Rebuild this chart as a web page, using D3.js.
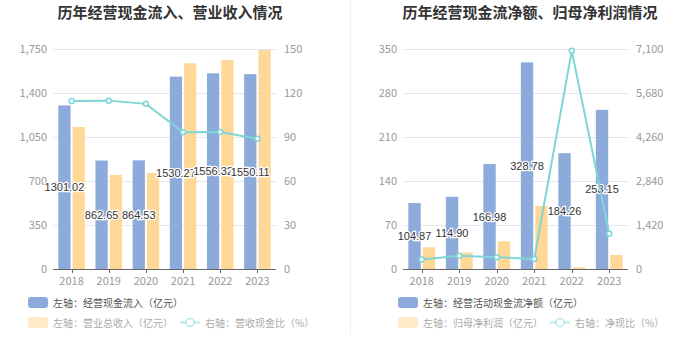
<!DOCTYPE html>
<html><head><meta charset="utf-8">
<script src="https://cdn.jsdelivr.net/npm/d3@7/dist/d3.min.js"></script>
<style>body{margin:0;background:#fff;}svg{display:block;font-family:"Noto Sans CJK SC","Noto Sans",sans-serif;}</style>
</head><body>
<svg id="c" width="700" height="360"></svg>
<script>
const years = ["2018","2019","2020","2021","2022","2023"];
// Left chart
const cashInflow = [1301.02, 862.65, 864.53, 1530.27, 1556.32, 1550.11];
const revenue = [1130, 748, 764, 1636, 1662, 1742];
const cashRevenueRatio = [114.6, 114.8, 112.6, 93.3, 93.4, 88.8];
const leftTicksL = [0, 350, 700, 1050, 1400, 1750];
const leftTicksR = [0, 30, 60, 90, 120, 150];
// Right chart
const netCashFlow = [104.87, 114.90, 166.98, 328.78, 184.26, 253.15];
const netProfit = [34.5, 26.0, 44.0, 100.2, 2.6, 22.3];
const netCashRatio = [310, 430, 378, 325, 7040, 1140];
const rightTicksL = [0, 70, 140, 210, 280, 350];
const rightTicksR = [0, 1420, 2840, 4260, 5680, 7100];

const BLUE = "#8CABDA", YELLOW = "#FFD797", LINE = "#7FD6D6";
const svg = d3.select("#c");

svg.append("line").attr("x1",350.5).attr("x2",350.5).attr("y1",0).attr("y2",335).attr("stroke","#eeeeee");

function chart(o){
  const g = svg.append("g");
  const yTop = 49, yBot = 269;
  const x = d3.scaleBand().domain(years).range([o.x0, o.x1]);
  const bw = x.bandwidth();
  const barW = bw*0.33, gap = bw*0.055;
  const yL = d3.scaleLinear().domain([0, o.ticksL[o.ticksL.length-1]]).range([yBot, yTop]);
  const yR = d3.scaleLinear().domain([0, o.ticksR[o.ticksR.length-1]]).range([yBot, yTop]);

  g.append("text").attr("x",o.titleX).attr("y",18).attr("text-anchor","middle")
    .attr("font-size",15).attr("font-weight","bold").attr("fill","#333").text(o.title);

  g.selectAll(".grid").data(o.ticksL.slice(1)).join("line")
    .attr("x1",o.x0).attr("x2",o.x1).attr("y1",d=>Math.round(yL(d))+0.5).attr("y2",d=>Math.round(yL(d))+0.5)
    .attr("stroke","#E3E7F1");
  g.selectAll(".yl").data(o.ticksL).join("text")
    .attr("x",o.x0-6).attr("y",d=>yL(d)+4).attr("text-anchor","end")
    .attr("font-size",11).attr("fill","#999").text(d=>d3.format(",")(d));
  g.selectAll(".yr").data(o.ticksR).join("text")
    .attr("x",o.x1+8).attr("y",d=>yR(d)+4).attr("text-anchor","start")
    .attr("font-size",11).attr("fill","#999").text(d=>d3.format(",")(d));

  g.selectAll(".b1").data(o.s1).join("rect")
    .attr("x",(d,i)=>x(years[i])+bw/2-gap/2-barW).attr("width",barW)
    .attr("y",d=>yL(d)).attr("height",d=>yBot-yL(d)).attr("fill",BLUE);
  g.selectAll(".b2").data(o.s2).join("rect")
    .attr("x",(d,i)=>x(years[i])+bw/2+gap/2).attr("width",barW)
    .attr("y",d=>yL(d)).attr("height",d=>yBot-yL(d)).attr("fill",YELLOW);

  g.append("line").attr("x1",o.x0).attr("x2",o.x1).attr("y1",yBot+0.5).attr("y2",yBot+0.5).attr("stroke","#666");
  g.selectAll(".xt").data(years).join("line")
    .attr("x1",d=>Math.round(x(d)+bw/2)+0.5).attr("x2",d=>Math.round(x(d)+bw/2)+0.5)
    .attr("y1",yBot).attr("y2",yBot+4).attr("stroke","#666");
  g.selectAll(".xl").data(years).join("text")
    .attr("x",d=>x(d)+bw/2).attr("y",yBot+16).attr("text-anchor","middle")
    .attr("font-size",11).attr("fill","#999").text(d=>d);

  g.selectAll(".lb").data(o.s1).join("text")
    .attr("x",(d,i)=>x(years[i])+bw/2-gap/2-barW/2).attr("y",d=>(yL(d)+yBot)/2+4)
    .attr("text-anchor","middle").attr("font-size",11).attr("fill","#333")
    .attr("font-family","'Liberation Sans',Arial,sans-serif")
    .attr("stroke","#fff").attr("stroke-width",2.5).attr("paint-order","stroke")
    .text(d=>d.toFixed(2));

  const line = d3.line().x((d,i)=>x(years[i])+bw/2).y(d=>yR(d));
  g.append("path").attr("d",line(o.s3)).attr("fill","none").attr("stroke",LINE).attr("stroke-width",2);
  g.selectAll(".pt").data(o.s3).join("circle")
    .attr("cx",(d,i)=>x(years[i])+bw/2).attr("cy",d=>yR(d)).attr("r",2.5)
    .attr("fill","#fff").attr("stroke",LINE).attr("stroke-width",1.5);

  const lx = o.legX;
  g.append("rect").attr("x",lx).attr("y",297).attr("width",20).attr("height",11).attr("rx",3).attr("fill",BLUE);
  g.append("text").attr("x",lx+25).attr("y",306.5).attr("font-size",10).attr("fill","#555").text(o.leg1);
  g.append("rect").attr("x",lx).attr("y",317).attr("width",20).attr("height",11).attr("rx",3).attr("fill","#FFE9C8");
  g.append("text").attr("x",lx+25).attr("y",326.5).attr("font-size",10).attr("fill","#aaa").text(o.leg2);
  const l3 = o.leg3X;
  g.append("line").attr("x1",l3).attr("x2",l3+20).attr("y1",322.5).attr("y2",322.5).attr("stroke","#B5E8E8").attr("stroke-width",2);
  g.append("circle").attr("cx",l3+10).attr("cy",322.5).attr("r",4).attr("fill","#fff").attr("stroke","#B5E8E8").attr("stroke-width",1.5);
  g.append("text").attr("x",l3+25).attr("y",326.5).attr("font-size",10).attr("fill","#aaa").text(o.leg3);
}

chart({x0:53, x1:276, titleX:170, title:"历年经营现金流入、营业收入情况",
  s1:cashInflow, s2:revenue, s3:cashRevenueRatio, ticksL:leftTicksL, ticksR:leftTicksR,
  legX:28, leg1:"左轴：经营现金流入（亿元）", leg2:"左轴：营业总收入（亿元）", leg3X:180, leg3:"右轴：营收现金比（%）"});
chart({x0:403, x1:628, titleX:530, title:"历年经营现金流净额、归母净利润情况",
  s1:netCashFlow, s2:netProfit, s3:netCashRatio, ticksL:rightTicksL, ticksR:rightTicksR,
  legX:398, leg1:"左轴：经营活动现金流净额（亿元）", leg2:"左轴：归母净利润（亿元）", leg3X:550, leg3:"右轴：净现比（%）"});
</script>
</body></html>
